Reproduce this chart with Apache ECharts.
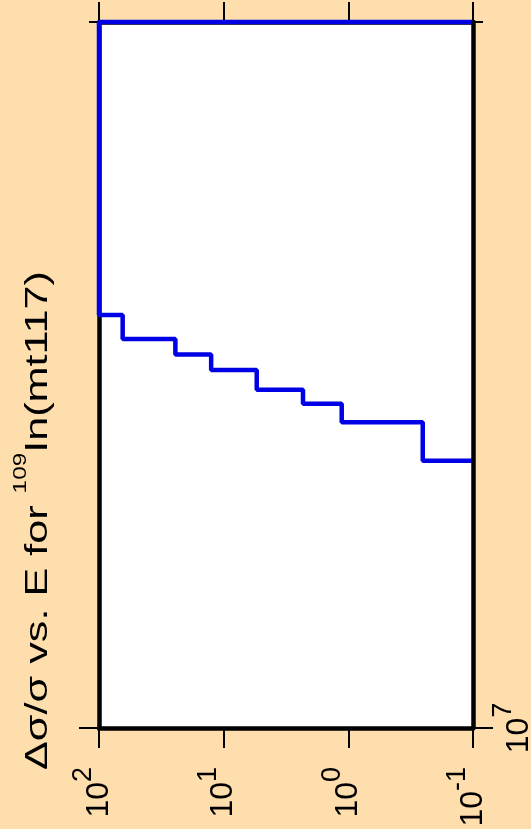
<!DOCTYPE html>
<html>
<head>
<meta charset="utf-8">
<script src="https://cdn.jsdelivr.net/npm/echarts@6/dist/echarts.min.js"></script>
<style>
  html, body { margin: 0; padding: 0; background: #FFDEAD; }
  #chart { width: 531px; height: 829px; }
</style>
</head>
<body>
<div id="chart"></div>
<script>
// energy bin edges (eV); below 1.3e7 the uncertainty is off-scale
const binEdges = [1.3e7, 1.35e7, 1.375e7, 1.394e7, 1.421e7, 1.443e7, 1.465e7, 1.5e7, 2e7]
// relative uncertainty in each bin
const binErr = [0.253, 1.13, 2.31, 5.43, 12.6, 24.4, 64.6, 100]
const errRange = [0.1, 100]
const energyRange = [1e7, 2e7]
const energyLabelTicks = [1e7]

const FONT = 'Liberation Sans, Arial, sans-serif'
const myChart = echarts.init(document.getElementById('chart'))

// histogram outline: enter from the bottom of the scale, leave to it at the end
const points = [[errRange[0], binEdges[0]]]
binErr.forEach((v, i) => points.push([v, binEdges[i]]))
points.push([errRange[0], binEdges[binEdges.length - 1]])

function powLabel(v) {
  const e = Math.round(Math.log10(v))
  return '{b|10}{s|' + e + '}'
}
const powRich = {
  b: { fontSize: 32, lineHeight: 58, fontFamily: FONT, color: '#000' },
  s: { fontSize: 27, lineHeight: 27, verticalAlign: 'top', fontFamily: FONT, color: '#000' }
}

const lineBlack = { show: true, lineStyle: { color: '#000', width: 4.5 } }

function errAxis(position, showLabel) {
  return {
    type: 'log',
    logBase: 10,
    position: position,
    min: errRange[0],
    max: errRange[1],
    inverse: true,
    axisLine: lineBlack,
    axisTick: { show: true, inside: false, length: 20, lineStyle: { color: '#000', width: 2 } },
    axisLabel: {
      show: showLabel,
      rotate: 90,
      margin: 39,
      formatter: powLabel,
      rich: powRich
    },
    splitLine: { show: false }
  }
}

function energyAxis(position, showLabel, ticks, tickLen, showLine, z) {
  return {
    type: 'log',
    logBase: 10,
    position: position,
    z: z,
    min: energyRange[0],
    max: energyRange[1],
    axisLine: showLine ? lineBlack : { show: false },
    axisTick: {
      show: true, inside: false, length: tickLen,
      customValues: ticks,
      lineStyle: { color: '#000', width: 2 }
    },
    axisLabel: {
      show: showLabel,
      rotate: 90,
      margin: 17,
      customValues: energyLabelTicks,
      formatter: powLabel,
      rich: powRich
    },
    splitLine: { show: false }
  }
}

const option = {
  backgroundColor: '#FFDEAD',
  animation: false,
  grid: {
    left: 99, right: 58, top: 22, bottom: 101,
    outerBoundsMode: 'none',
    show: true, backgroundColor: '#fff', borderWidth: 0
  },
  xAxis: [
    errAxis('bottom', true),
    errAxis('top', false)
  ],
  yAxis: [
    energyAxis('left', false, energyLabelTicks, 20, true, 0),
    // right frame sits above the curve, as in the original plot
    energyAxis('right', true, energyLabelTicks, 20, true, 5),
    energyAxis('left', false, [energyRange[1]], 10, false, 0),
    energyAxis('right', false, [energyRange[1]], 10, false, 0)
  ],
  graphic: [{
    type: 'text',
    x: 38,
    y: 770,
    rotation: Math.PI / 2,
    scaleX: 1.35,
    style: {
      text: '{m|Δσ/σ vs. E for }{s|109}{m|In(mt117)}',
      align: 'left',
      verticalAlign: 'middle',
      rich: {
        m: { fontSize: 32, lineHeight: 52, fontFamily: FONT, fill: '#000', color: '#000' },
        s: { fontSize: 18, lineHeight: 18, verticalAlign: 'top', fontFamily: FONT, fill: '#000', color: '#000' }
      }
    }
  }],
  series: [{
    type: 'line',
    step: 'start',
    xAxisIndex: 0,
    yAxisIndex: 0,
    symbol: 'none',
    clip: false,
    z: 2,
    lineStyle: { color: '#0000e6', width: 4.5 },
    data: points
  }]
}

myChart.setOption(option)
</script>
</body>
</html>
